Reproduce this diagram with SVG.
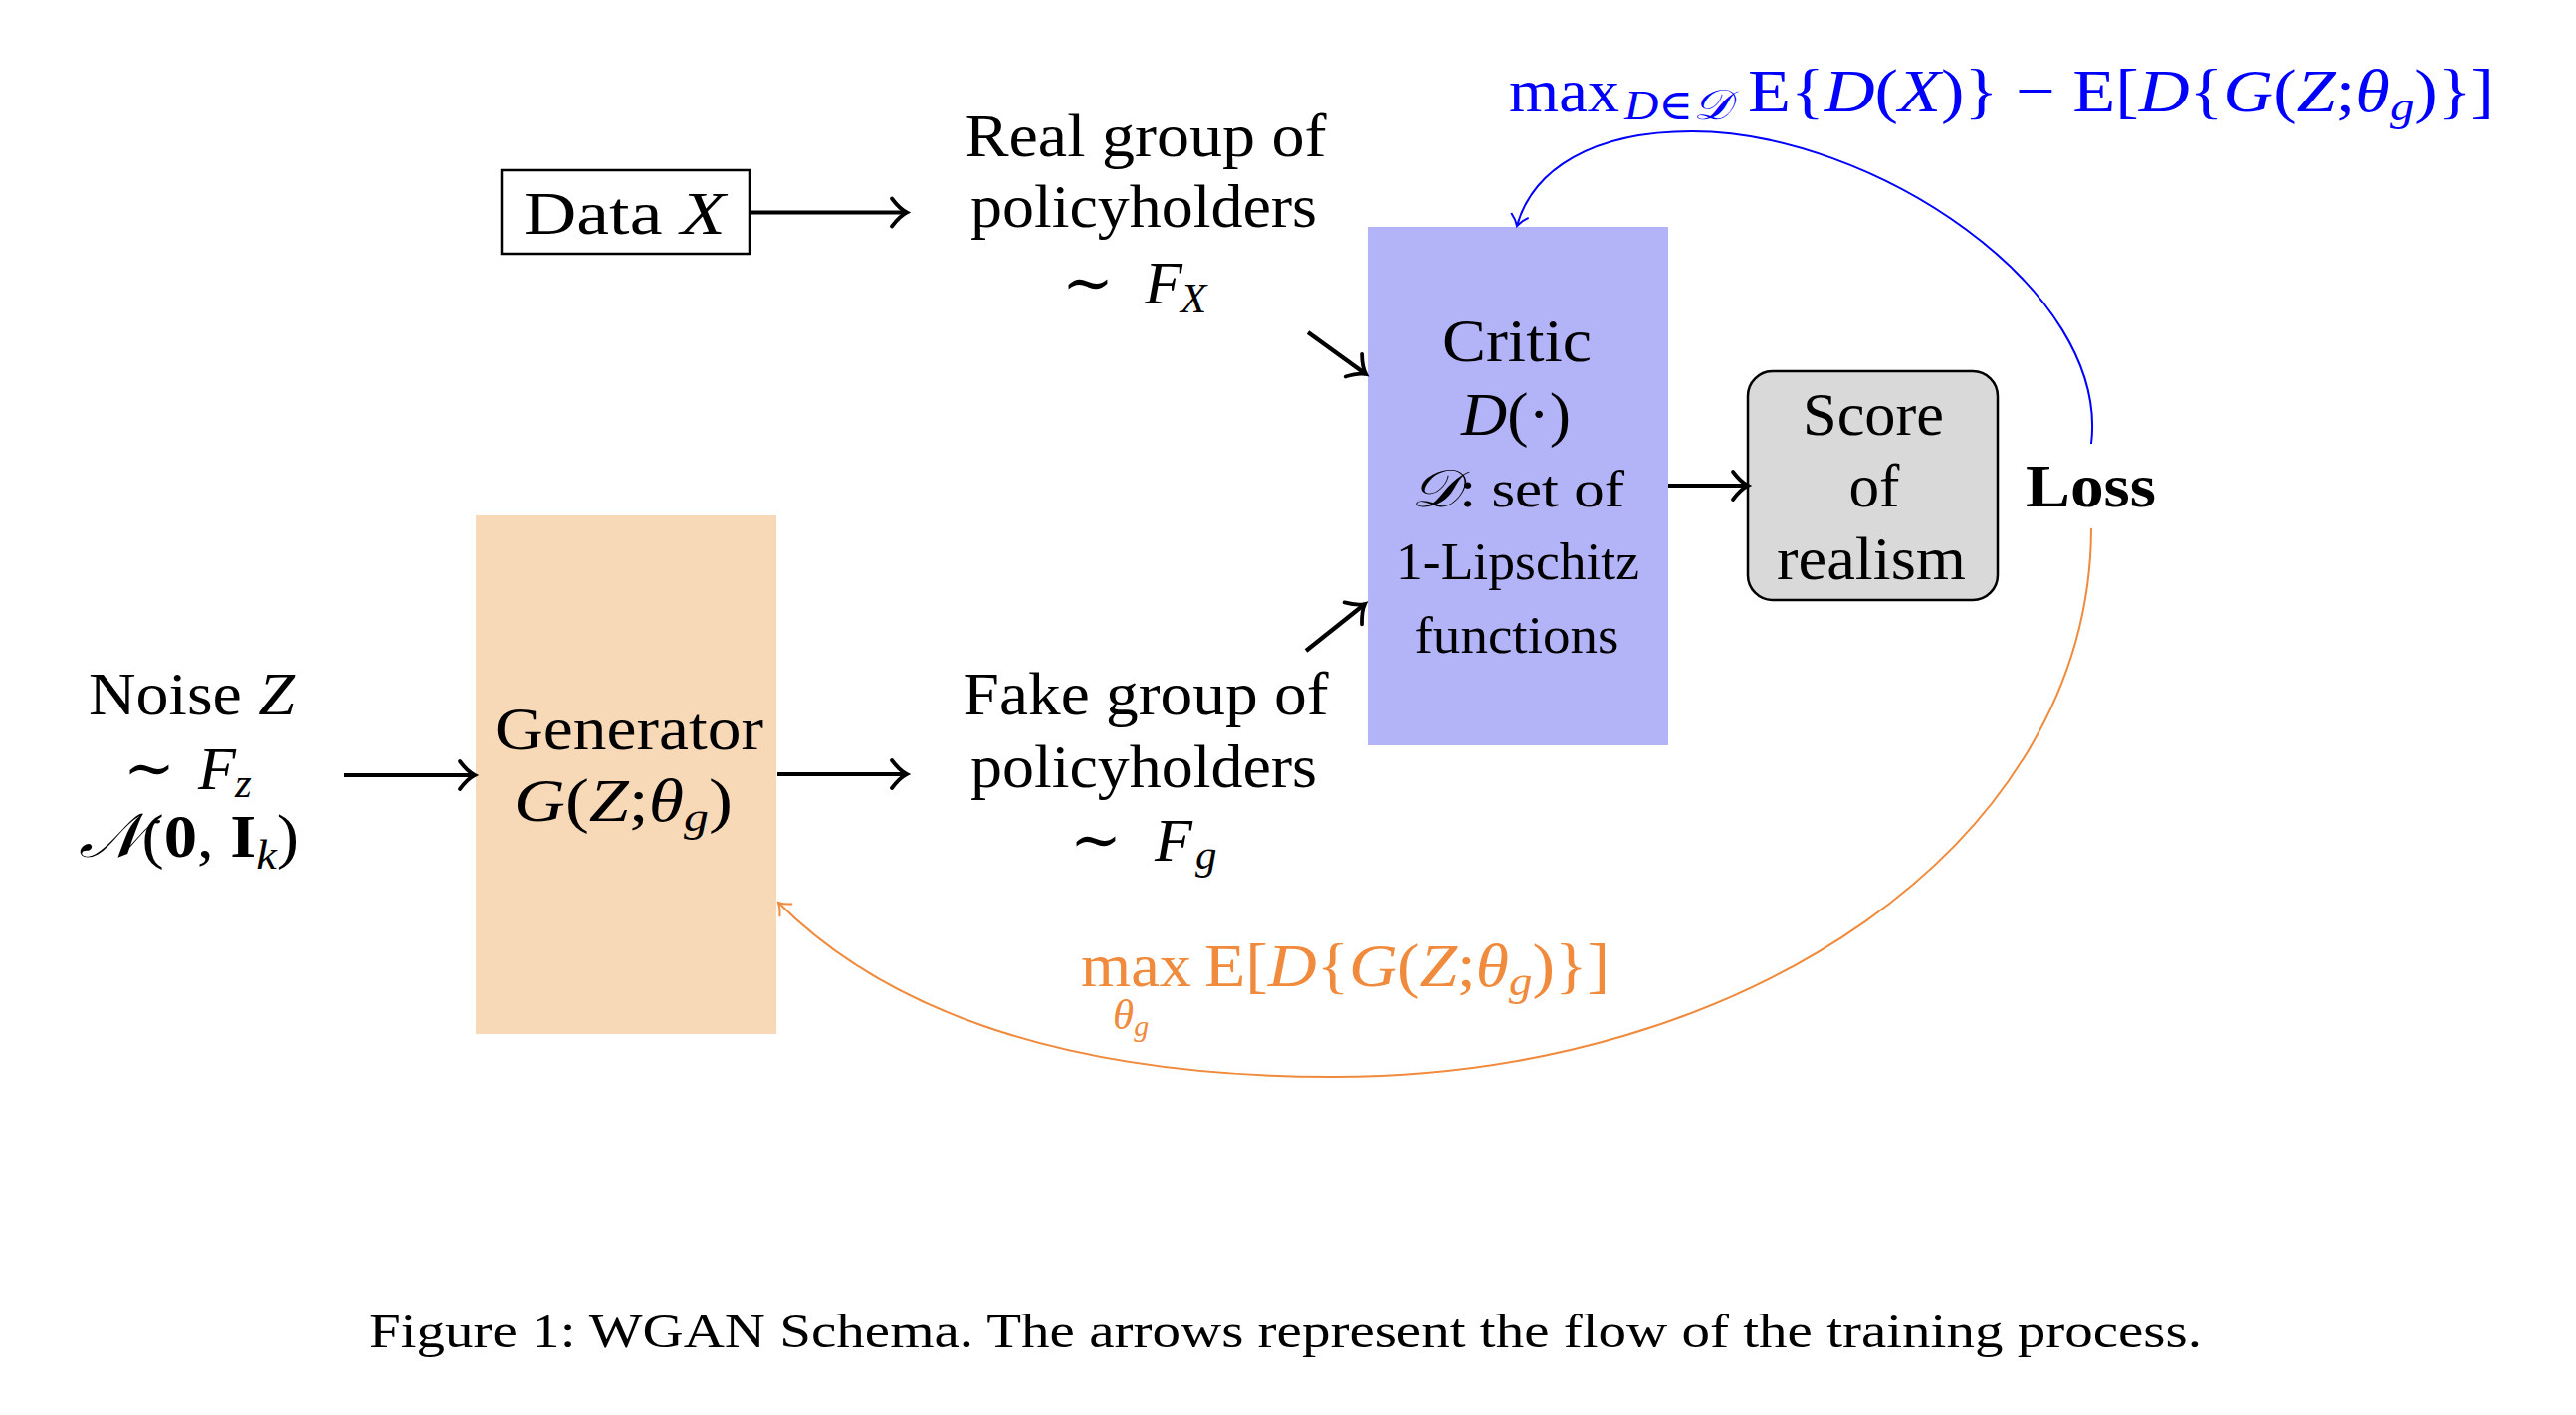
<svg xmlns="http://www.w3.org/2000/svg" width="2588" height="1422" viewBox="0 0 2588 1422">
<style>
text{font-family:"Liberation Serif","DejaVu Serif",serif;font-size:62px;fill:#000}
.it{font-style:italic}
.bf{font-weight:bold}
.sub{font-size:43px}
.sm{font-size:53px}
.mid{text-anchor:middle}
.blue{fill:#0000FF}
.orange{fill:#F08A3C}
.cal{font-family:"DejaVu Serif","DejaVu Sans","Liberation Serif",serif;font-style:italic}
.cap{font-size:48px}
.arr{stroke:#000;stroke-width:4.2;fill:none;marker-end:url(#ah)}
</style>
<defs>
<marker id="ah" markerUnits="userSpaceOnUse" orient="auto" refX="0" refY="0" overflow="visible">
<path d="M -15 -14 C -9 -6 -4 -2 0 0 C -4 2 -9 6 -15 14" fill="none" stroke="#000" stroke-width="3.8" stroke-linecap="round"/>
</marker>
<marker id="ahb" markerUnits="userSpaceOnUse" orient="auto" refX="0" refY="0" overflow="visible">
<path d="M -11 -9 C -6 -3 -2 -1 0 0 C -2 1 -6 3 -11 9" fill="none" stroke="#0000FF" stroke-width="2"/>
</marker>
<marker id="aho" markerUnits="userSpaceOnUse" orient="auto" refX="0" refY="0" overflow="visible">
<path d="M -11 -9 C -6 -3 -2 -1 0 0 C -2 1 -6 3 -11 9" fill="none" stroke="#F08A3C" stroke-width="2"/>
</marker>
</defs>
<rect width="2588" height="1422" fill="#fff"/>

<g id="data">
<rect x="504" y="171" width="249" height="84" fill="#fff" stroke="#000" stroke-width="2.5"/>
<text x="526" y="235" textLength="203" lengthAdjust="spacingAndGlyphs">Data <tspan class="it">X</tspan></text>
</g>

<g id="real">
<text class="mid" x="1151" y="157" textLength="363" lengthAdjust="spacingAndGlyphs">Real group of</text>
<text class="mid" x="1149" y="228" textLength="348" lengthAdjust="spacingAndGlyphs">policyholders</text>
<text x="1067" y="305">∼</text>
<text class="it" x="1150" y="305">F</text>
<text class="it sub" x="1186" y="314">X</text>
</g>

<g id="noise">
<text x="89" y="718" textLength="207" lengthAdjust="spacingAndGlyphs">Noise <tspan class="it">Z</tspan></text>
<text x="124" y="793">∼</text>
<text class="it" x="199" y="793">F</text>
<text class="it sub" x="236" y="801">z</text>
<text x="79" y="861" textLength="221" lengthAdjust="spacingAndGlyphs"><tspan class="cal">𝒩</tspan>(<tspan class="bf">0</tspan>, <tspan class="bf">I</tspan><tspan class="it sub" dy="12">k</tspan><tspan dy="-12">)</tspan></text>
</g>

<g id="generator">
<rect x="478" y="518" width="302" height="521" fill="#F7D9B7"/>
<text x="497" y="753" textLength="270" lengthAdjust="spacingAndGlyphs">Generator</text>
<text x="516" y="825" textLength="220" lengthAdjust="spacingAndGlyphs"><tspan class="it">G</tspan>(<tspan class="it">Z</tspan>;<tspan class="it">θ</tspan><tspan class="it sub" dy="10">g</tspan><tspan dy="-10">)</tspan></text>
</g>

<g id="fake">
<text class="mid" x="1151" y="718" textLength="367" lengthAdjust="spacingAndGlyphs">Fake group of</text>
<text class="mid" x="1149" y="791" textLength="348" lengthAdjust="spacingAndGlyphs">policyholders</text>
<text x="1075" y="865">∼</text>
<text class="it" x="1160" y="865">F</text>
<text class="it sub" x="1201" y="873">g</text>
</g>

<g id="critic">
<rect x="1374" y="228" width="302" height="521" fill="#B3B3F7"/>
<text class="mid" x="1524" y="363" textLength="150" lengthAdjust="spacingAndGlyphs">Critic</text>
<text class="mid" x="1523" y="437" textLength="110" lengthAdjust="spacingAndGlyphs"><tspan class="it">D</tspan>(·)</text>
<text class="mid sm" x="1525" y="509" textLength="214" lengthAdjust="spacingAndGlyphs"><tspan class="cal">𝒟</tspan>:  set of</text>
<text class="mid sm" x="1525" y="582" textLength="244" lengthAdjust="spacingAndGlyphs">1-Lipschitz</text>
<text class="mid sm" x="1524" y="656" textLength="205" lengthAdjust="spacingAndGlyphs">functions</text>
</g>

<g id="score">
<rect x="1756" y="373" width="251" height="230" rx="25" ry="25" fill="#D9D9D9" stroke="#000" stroke-width="2.5"/>
<text class="mid" x="1882" y="437" textLength="142" lengthAdjust="spacingAndGlyphs">Score</text>
<text class="mid" x="1883" y="509" textLength="51" lengthAdjust="spacingAndGlyphs">of</text>
<text class="mid" x="1880" y="582" textLength="190" lengthAdjust="spacingAndGlyphs">realism</text>
</g>

<g id="loss">
<text class="bf" x="2035" y="509" textLength="131" lengthAdjust="spacingAndGlyphs">Loss</text>
</g>

<g id="critic-objective">
<text class="blue" x="1516" y="112" textLength="111" lengthAdjust="spacingAndGlyphs">max</text>
<text class="blue sub" x="1632" y="120" textLength="107" lengthAdjust="spacingAndGlyphs"><tspan class="it">D</tspan>∈<tspan class="cal">𝒟</tspan></text>
<text class="blue" x="1756" y="112" textLength="750" lengthAdjust="spacingAndGlyphs">E{<tspan class="it">D</tspan>(<tspan class="it">X</tspan>)} − E[<tspan class="it">D</tspan>{<tspan class="it">G</tspan>(<tspan class="it">Z</tspan>;<tspan class="it">θ</tspan><tspan class="it sub" dy="9">g</tspan><tspan dy="-9">)}]</tspan></text>
</g>

<g id="generator-objective">
<text class="orange" x="1086" y="991" textLength="111" lengthAdjust="spacingAndGlyphs">max</text>
<text class="orange it sub" x="1118" y="1034">θ<tspan dy="7" font-size="30">g</tspan></text>
<text class="orange" x="1210" y="991" textLength="407" lengthAdjust="spacingAndGlyphs">E[<tspan class="it">D</tspan>{<tspan class="it">G</tspan>(<tspan class="it">Z</tspan>;<tspan class="it">θ</tspan><tspan class="it sub" dy="9">g</tspan><tspan dy="-9">)}]</tspan></text>
</g>

<g id="connectors">
<line class="arr" x1="753" y1="213.5" x2="911" y2="213.5"/>
<line class="arr" x1="346" y1="779" x2="477" y2="779"/>
<line class="arr" x1="781" y1="778" x2="911" y2="778"/>
<line class="arr" x1="1314" y1="334" x2="1372" y2="376"/>
<line class="arr" x1="1312" y1="654" x2="1371" y2="607"/>
<line class="arr" x1="1676" y1="488" x2="1756" y2="488"/>
<path d="M 2101 446 C 2120 290 1880 132 1700 132 C 1600 132 1540 170 1524 227" fill="none" stroke="#0000FF" stroke-width="2" marker-end="url(#ahb)"/>
<path d="M 2101 531 C 2100 850 1750 1082 1340 1082 C 1050 1082 880 1005 782 907" fill="none" stroke="#F08A3C" stroke-width="2" marker-end="url(#aho)"/>
</g>

<text class="cap" x="371" y="1354" textLength="1841" lengthAdjust="spacingAndGlyphs">Figure 1: WGAN Schema. The arrows represent the flow of the training process.</text>
</svg>
